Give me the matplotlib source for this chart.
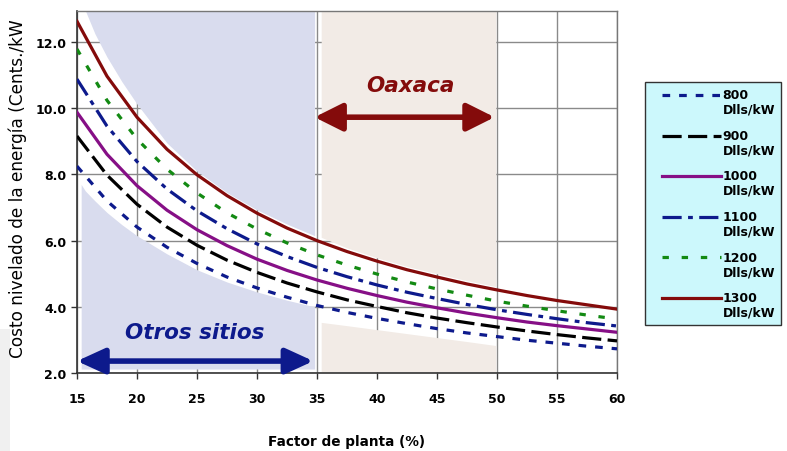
import numpy as np
import matplotlib
matplotlib.use("Agg")
import matplotlib.pyplot as plt
from matplotlib.legend_handler import HandlerLine2D
from matplotlib.lines import Line2D
from matplotlib.patches import Rectangle

plt.rcParams["font.family"] = ["DejaVu Sans"]

# factor de planta (%)
factor = [15, 17.5, 20, 22.5, 25, 27.5, 30, 32.5, 35, 37.5, 40,
          42.5, 45, 47.5, 50, 52.5, 55, 57.5, 60]

costo_800 = [8.25, 7.20, 6.41, 5.80, 5.31, 4.90, 4.57, 4.29, 4.04, 3.83, 3.65,
             3.49, 3.34, 3.21, 3.10, 2.99, 2.90, 2.81, 2.73]
costo_900 = [9.16, 7.98, 7.10, 6.41, 5.86, 5.41, 5.04, 4.72, 4.45, 4.21, 4.01,
             3.82, 3.66, 3.52, 3.39, 3.27, 3.16, 3.06, 2.97]
costo_1000 = [9.88, 8.61, 7.66, 6.92, 6.33, 5.85, 5.44, 5.10, 4.81, 4.56, 4.34,
              4.14, 3.97, 3.81, 3.67, 3.54, 3.43, 3.33, 3.23]
costo_1100 = [10.88, 9.46, 8.39, 7.56, 6.90, 6.36, 5.90, 5.52, 5.19, 4.91, 4.66,
              4.44, 4.25, 4.07, 3.91, 3.77, 3.64, 3.52, 3.42]
costo_1200 = [11.79, 10.24, 9.07, 8.16, 7.44, 6.84, 6.35, 5.93, 5.57, 5.26, 4.99,
              4.75, 4.54, 4.35, 4.17, 4.02, 3.88, 3.75, 3.63]
costo_1300 = [12.63, 10.97, 9.73, 8.76, 7.99, 7.36, 6.83, 6.38, 6.00, 5.67, 5.38,
              5.12, 4.90, 4.69, 4.51, 4.34, 4.19, 4.06, 3.93]

series_labels = ["800\nDlls/kW", "900\nDlls/kW", "1000\nDlls/kW",
                 "1100\nDlls/kW", "1200\nDlls/kW", "1300\nDlls/kW"]

# shaded zones ("Otros sitios" and "Oaxaca") with the white band cut out
otros_x = [15.35, 15.7, 16.5, 17.5, 18.75, 20, 22.5, 25, 27.5, 30, 32.5, 34.8]
otros_upper = [12.95, 12.95, 12.25, 11.55, 10.8, 10.13, 8.95, 8.1, 7.45, 6.93, 6.5, 6.15]
otros_lower = [7.7, 7.5, 7.2, 6.85, 6.48, 6.15, 5.6, 5.12, 4.75, 4.45, 4.2, 4.0]
oaxaca_x = [35.35, 37.5, 40, 42.5, 45, 47.5, 49.9]
oaxaca_upper = [6.1, 5.78, 5.48, 5.22, 5.0, 4.79, 4.61]
oaxaca_lower = [3.53, 3.43, 3.31, 3.19, 3.07, 2.95, 2.83]

Y_TOP = 12.94


class FirstLineHandler(HandlerLine2D):
    # legend line level with the first text line, indented a little
    def create_artists(self, legend, orig_handle, xdescent, ydescent,
                       width, height, fontsize, trans):
        artists = super().create_artists(legend, orig_handle, xdescent, ydescent,
                                         width, height, fontsize, trans)
        for a in artists:
            xd = np.asarray(a.get_xdata(), dtype=float)
            yd = np.asarray(a.get_ydata(), dtype=float)
            a.set_data(np.linspace(xd[0] + 0.85 * fontsize, xd[-1], len(xd)),
                       yd + 0.62 * fontsize)
        return artists


fig = plt.figure(figsize=(7.87, 4.52), dpi=100)
fig.patches.append(Rectangle((0, 0), 0.013, 0.27, transform=fig.transFigure,
                             facecolor="#f0f0f0", edgecolor="none", zorder=0))
ax = fig.add_axes([0.0978, 0.1726, 0.6862, 0.8009])

blue_zone = "#d9dcee"
beige_zone = "#f2ebe6"
ax.fill_between(otros_x, otros_upper, Y_TOP, color=blue_zone, lw=0, zorder=1)
ax.fill_between(otros_x, 2.12, otros_lower, color=blue_zone, lw=0, zorder=1)
ax.fill_between(oaxaca_x, oaxaca_upper, Y_TOP, color=beige_zone, lw=0, zorder=1)
ax.fill_between(oaxaca_x, 2.03, oaxaca_lower, color=beige_zone, lw=0, zorder=1)

lw = 2.3
ax.plot(factor, costo_800, color="#0d1a8c", lw=lw, dashes=(2.4, 2.8), zorder=3)
ax.plot(factor, costo_900, color="black", lw=lw, dashes=(6, 2), zorder=3)
ax.plot(factor, costo_1000, color="#860f86", lw=lw, zorder=3)
ax.plot(factor, costo_1100, color="#0d1a8c", lw=lw, dashes=(6, 2, 1.5, 2), zorder=3)
ax.plot(factor, costo_1200, color="#138a13", lw=lw, dashes=(2, 4), zorder=3)
ax.plot(factor, costo_1300, color="#840b0b", lw=lw, zorder=3)

ax.set_xlim(15, 60)
ax.set_ylim(2, Y_TOP)
ax.set_xticks(np.arange(15, 61, 5))
ax.set_yticks(np.arange(2, 13, 2))
ax.set_yticklabels([f"{v:.1f}" for v in np.arange(2, 13, 2)])
ax.tick_params(labelsize=9, length=4, color="#333333", width=1)
ax.tick_params(axis="x", pad=10)
for lab in ax.get_xticklabels() + ax.get_yticklabels():
    lab.set_fontweight("bold")
ax.set_axisbelow(True)
ax.grid(True, color="#8a8a8a", lw=1, zorder=0.5)
for side in ["left", "bottom"]:
    ax.spines[side].set_color("#333333")
    ax.spines[side].set_linewidth(1.2)
for side in ["top", "right"]:
    ax.spines[side].set_color("#777777")
    ax.spines[side].set_linewidth(1)

# region annotations
ax.annotate("", xy=(15, 2.36), xytext=(34.7, 2.36),
            arrowprops=dict(arrowstyle="<|-|>,head_length=0.7,head_width=0.32",
                            color="#0d1a8c", lw=4, mutation_scale=24,
                            shrinkA=0, shrinkB=0), zorder=4)
ax.text(24.8, 3.24, "Otros sitios", color="#0d1a8c", fontsize=15.5,
        fontweight="bold", fontstyle="oblique", ha="center", va="center", zorder=4)
ax.annotate("", xy=(34.8, 9.73), xytext=(49.8, 9.73),
            arrowprops=dict(arrowstyle="<|-|>,head_length=0.7,head_width=0.35",
                            color="#840b0b", lw=4, mutation_scale=24,
                            shrinkA=0, shrinkB=0), zorder=4)
ax.text(42.75, 10.7, "Oaxaca", color="#840b0b", fontsize=15.5,
        fontweight="bold", fontstyle="oblique", ha="center", va="center", zorder=4)

leg = ax.legend(ax.get_lines(), series_labels, loc="upper left",
                bbox_to_anchor=(645 / 787, 1 - 83 / 452),
                bbox_transform=fig.transFigure, borderaxespad=0,
                fontsize=9, handlelength=5.6, handletextpad=0.1,
                labelspacing=1.05, borderpad=0.5, fancybox=False,
                framealpha=1, facecolor="#ccf8fc", edgecolor="#333333",
                handler_map={Line2D: FirstLineHandler()})
leg.get_frame().set_linewidth(1)
for t in leg.get_texts():
    t.set_fontweight("bold")
    t.set_linespacing(1.15)

fig.text(18 / 787, 1 - 358 / 452, "Costo nivelado de la energía (Cents./kW",
         rotation=90, ha="center", va="bottom", fontsize=12.2)
fig.text(346 / 787, 1 - 442 / 452, "Factor de planta (%)", ha="center",
         va="center", fontsize=9.8, fontweight="bold")

fig.savefig("out.png", dpi=100)
